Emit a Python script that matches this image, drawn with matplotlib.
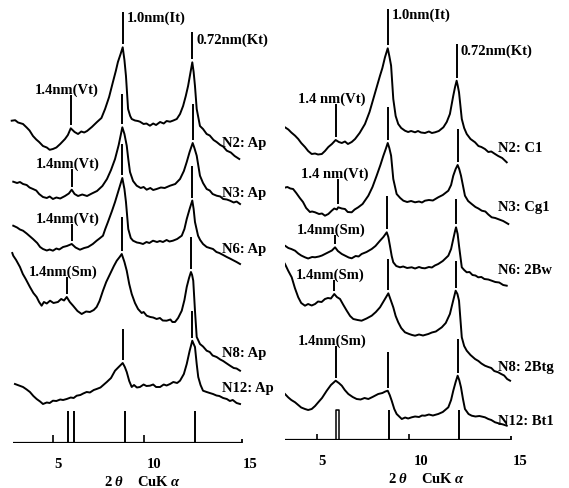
import numpy as np
import matplotlib.pyplot as plt

plt.rcParams["font.family"] = ["Liberation Serif", "DejaVu Serif"]
plt.rcParams["font.weight"] = "bold"
plt.rcParams["mathtext.fontset"] = "custom"
plt.rcParams["mathtext.rm"] = "Liberation Serif:bold"
plt.rcParams["mathtext.it"] = "Liberation Serif:italic:bold"

# ---- left panel: Ap horizons (2theta, relative intensity) ----
left_names = ["N2: Ap", "N3: Ap", "N6: Ap", "N8: Ap", "N12: Ap"]
left_offsets = [279, 234, 174, 69, 34]
left_label_lift = [21, 17, 20, 21, 21]
left_14_text = ["1.4nm(Vt)", "1.4nm(Vt)", "1.4nm(Vt)", "1.4nm(Sm)", None]

n2_ap = np.array([
    (2.57, 43.3), (2.75, 43.8), (2.90, 41.5), (3.16, 40.0), (3.35, 36.5), (3.50, 33.5),
    (3.68, 28.0), (3.85, 24.5), (4.00, 22.0), (4.20, 18.0), (4.40, 16.5), (4.55, 14.2),
    (4.72, 15.0), (4.90, 16.5), (5.10, 20.0), (5.35, 25.0), (5.50, 29.0), (5.65, 35.7),
    (5.85, 32.0), (6.03, 30.0), (6.20, 32.5), (6.35, 31.5), (6.50, 33.0), (6.75, 37.0),
    (7.02, 42.0), (7.25, 46.0), (7.44, 55.0), (7.65, 67.0), (7.85, 82.0), (8.00, 93.0),
    (8.11, 102.0), (8.25, 110.0), (8.36, 116.7), (8.45, 104.0), (8.53, 88.0), (8.64, 55.0),
    (8.75, 48.0), (8.83, 45.0), (9.00, 43.5), (9.15, 43.0), (9.26, 42.3), (9.45, 40.0),
    (9.60, 40.5), (9.78, 38.3), (9.95, 40.5), (10.10, 39.0), (10.31, 42.0), (10.50, 40.5),
    (10.65, 43.0), (10.83, 42.3), (11.00, 43.5), (11.18, 45.0), (11.35, 50.0), (11.51, 58.0),
    (11.65, 68.0), (11.77, 78.0), (11.90, 92.0), (11.99, 101.7), (12.06, 92.0), (12.13, 78.0),
    (12.22, 55.0), (12.39, 38.0), (12.55, 35.0), (12.74, 30.0), (12.90, 28.5), (13.10, 24.0),
    (13.26, 22.0), (13.45, 19.0), (13.60, 17.5), (13.79, 13.3), (14.00, 11.5), (14.20, 8.0),
    (14.44, 5.0),
])
n3_ap = np.array([
    (2.65, 27.3), (2.85, 26.0), (3.00, 27.0), (3.16, 25.0), (3.35, 24.0), (3.50, 21.5),
    (3.68, 20.0), (3.85, 18.5), (4.00, 15.0), (4.20, 12.0), (4.40, 11.0), (4.55, 12.5),
    (4.72, 10.0), (4.90, 11.5), (5.10, 10.5), (5.35, 13.0), (5.55, 15.5), (5.70, 19.3),
    (5.85, 15.0), (6.03, 13.0), (6.25, 14.5), (6.50, 13.0), (6.75, 15.5), (7.02, 18.0),
    (7.30, 23.0), (7.54, 30.0), (7.75, 39.0), (7.96, 50.0), (8.15, 64.0), (8.34, 81.7),
    (8.45, 75.0), (8.57, 63.3), (8.65, 50.0), (8.74, 37.0), (8.90, 28.0), (9.09, 23.3),
    (9.30, 21.0), (9.45, 22.0), (9.61, 19.3), (9.80, 21.0), (9.95, 19.0), (10.13, 20.0),
    (10.35, 21.5), (10.55, 21.0), (10.83, 23.3), (11.10, 25.0), (11.35, 30.0), (11.55, 38.0),
    (11.70, 47.0), (11.85, 57.0), (12.01, 66.0), (12.10, 61.0), (12.22, 53.3), (12.39, 33.3),
    (12.55, 26.0), (12.74, 20.0), (12.90, 18.5), (13.05, 15.0), (13.26, 13.3), (13.45, 12.5),
    (13.60, 10.0), (13.79, 9.5), (13.96, 8.3), (14.15, 6.5), (14.30, 7.5), (14.48, 5.0),
])
n6_ap = np.array([
    (2.65, 43.3), (2.85, 41.5), (3.00, 39.5), (3.16, 38.3), (3.35, 35.5), (3.50, 33.0),
    (3.68, 30.0), (3.90, 26.0), (4.05, 22.0), (4.20, 20.0), (4.40, 18.5), (4.55, 19.5),
    (4.72, 18.3), (4.90, 20.5), (5.05, 19.5), (5.25, 22.0), (5.45, 23.0), (5.70, 25.0),
    (5.90, 21.5), (6.13, 19.3), (6.35, 21.0), (6.55, 22.0), (6.80, 25.0), (7.00, 28.3),
    (7.15, 30.5), (7.33, 33.3), (7.45, 40.0), (7.59, 47.0), (7.80, 58.0), (7.96, 67.0),
    (8.15, 79.0), (8.34, 91.0), (8.45, 80.0), (8.53, 67.0), (8.65, 40.0), (8.78, 31.0),
    (8.90, 28.3), (9.10, 26.5), (9.25, 26.0), (9.42, 25.0), (9.60, 27.0), (9.75, 26.0),
    (9.94, 28.3), (10.15, 27.0), (10.30, 28.0), (10.46, 27.0), (10.65, 29.0), (10.80, 27.5),
    (10.98, 28.3), (11.20, 30.0), (11.44, 33.3), (11.58, 40.0), (11.70, 50.0), (11.85, 60.0),
    (11.99, 68.5), (12.06, 60.0), (12.13, 47.0), (12.29, 33.3), (12.40, 29.0), (12.55, 25.0),
    (12.74, 22.0), (12.90, 21.0), (13.07, 20.0), (13.25, 17.0), (13.40, 16.0), (13.60, 14.0),
    (13.79, 12.0), (13.95, 10.5), (14.10, 9.0), (14.30, 7.0), (14.48, 5.0),
])
n8_ap = np.array([
    (2.60, 121.0), (2.65, 118.3), (2.80, 114.0), (3.00, 107.0), (3.15, 100.0), (3.30, 95.0),
    (3.52, 87.0), (3.70, 81.0), (3.87, 77.0), (4.00, 72.0), (4.13, 68.3), (4.25, 72.0),
    (4.40, 70.5), (4.57, 73.3), (4.75, 71.0), (4.98, 72.0), (5.15, 75.0), (5.30, 73.5),
    (5.44, 77.0), (5.60, 72.0), (5.77, 68.3), (6.00, 63.0), (6.22, 60.0), (6.45, 62.5),
    (6.65, 62.0), (6.85, 64.0), (7.00, 67.0), (7.15, 73.0), (7.33, 83.3), (7.50, 92.0),
    (7.70, 100.0), (7.90, 108.0), (8.05, 113.3), (8.20, 117.0), (8.31, 120.0), (8.45, 112.0),
    (8.57, 103.3), (8.70, 90.0), (8.83, 80.0), (9.00, 71.0), (9.16, 65.0), (9.35, 61.0),
    (9.45, 62.0), (9.61, 58.3), (9.80, 57.0), (9.95, 56.5), (10.13, 55.0), (10.30, 56.0),
    (10.45, 53.5), (10.65, 53.3), (10.85, 54.5), (10.95, 52.0), (11.09, 52.0), (11.25, 56.0),
    (11.44, 63.3), (11.58, 74.0), (11.70, 87.0), (11.82, 96.0), (11.92, 102.0), (11.98, 99.0),
    (12.04, 93.3), (12.13, 63.3), (12.22, 37.0), (12.39, 30.0), (12.55, 27.5), (12.74, 23.3),
    (12.90, 22.0), (13.05, 18.5), (13.26, 17.0), (13.45, 14.5), (13.60, 13.0), (13.79, 10.5),
    (13.96, 8.3), (14.15, 6.0), (14.30, 5.5), (14.48, 3.3),
])
n12_ap = np.array([
    (2.74, 25.0), (2.95, 23.5), (3.16, 22.0), (3.35, 19.5), (3.52, 17.0), (3.70, 13.0),
    (3.87, 10.0), (4.05, 7.5), (4.20, 5.0), (4.40, 6.5), (4.55, 6.0), (4.72, 8.3),
    (4.90, 8.0), (5.10, 9.5), (5.25, 9.0), (5.44, 10.0), (5.65, 11.5), (5.80, 11.0),
    (5.96, 13.3), (6.15, 14.0), (6.30, 15.5), (6.48, 17.0), (6.65, 16.5), (6.85, 19.0),
    (7.00, 20.0), (7.20, 21.5), (7.35, 24.0), (7.53, 27.0), (7.75, 31.0), (7.96, 38.3),
    (8.15, 42.0), (8.36, 46.0), (8.47, 42.0), (8.57, 37.0), (8.70, 28.0), (8.83, 22.0),
    (8.95, 24.0), (9.10, 21.5), (9.26, 22.0), (9.45, 24.5), (9.60, 23.0), (9.78, 23.3),
    (9.95, 24.5), (10.10, 22.0), (10.31, 22.0), (10.50, 24.5), (10.65, 23.5), (10.83, 25.0),
    (11.00, 27.0), (11.20, 26.0), (11.35, 28.3), (11.55, 35.0), (11.70, 45.0), (11.85, 58.0),
    (11.99, 68.3), (12.06, 65.0), (12.13, 62.0), (12.22, 45.0), (12.30, 32.0), (12.42, 24.0),
    (12.55, 18.3), (12.74, 17.0), (12.90, 16.0), (13.07, 15.0), (13.25, 13.5), (13.40, 13.0),
    (13.60, 11.0), (13.79, 10.0), (13.95, 8.0), (14.10, 9.0), (14.30, 6.0), (14.48, 5.0),
])
left_curves = [n2_ap, n3_ap, n6_ap, n8_ap, n12_ap]

# ---- right panel: subsoil horizons ----
right_names = ["N2: C1", "N3: Cg1", "N6: 2Bw", "N8: 2Btg", "N12: Bt1"]
right_offsets = [276, 211, 151, 56, 11]
right_label_lift = [17, 22, 20, 18, 8]
right_14_text = ["1.4 nm(Vt)", "1.4 nm(Vt)", "1.4nm(Sm)", "1.4nm(Sm)", "1.4nm(Sm)"]

n2_c1 = np.array([
    (2.79, 40.0), (2.95, 38.5), (3.13, 36.7), (3.30, 34.5), (3.45, 31.5), (3.64, 28.3),
    (3.80, 25.0), (3.95, 21.0), (4.14, 17.0), (4.30, 13.0), (4.48, 10.0), (4.65, 10.5),
    (4.80, 9.5), (4.99, 10.0), (5.15, 13.0), (5.32, 17.0), (5.50, 20.0), (5.69, 24.0),
    (5.85, 22.0), (6.00, 21.0), (6.16, 22.5), (6.31, 20.0), (6.50, 22.0), (6.67, 25.0),
    (6.90, 31.0), (7.17, 40.0), (7.40, 52.0), (7.59, 65.0), (7.75, 76.0), (7.93, 88.3),
    (8.05, 96.0), (8.18, 106.7), (8.32, 115.7), (8.40, 108.0), (8.49, 98.3), (8.60, 65.0),
    (8.72, 48.0), (8.85, 40.0), (9.00, 36.0), (9.19, 33.3), (9.35, 32.0), (9.50, 33.0),
    (9.70, 31.7), (9.85, 33.0), (10.00, 31.5), (10.20, 31.0), (10.40, 32.5), (10.55, 31.0),
    (10.71, 31.7), (10.90, 33.0), (11.13, 36.7), (11.30, 42.0), (11.46, 50.0), (11.63, 68.3),
    (11.72, 77.0), (11.80, 83.3), (11.86, 78.0), (11.92, 71.7), (12.06, 45.0), (12.18, 36.0),
    (12.31, 30.0), (12.50, 25.0), (12.73, 21.7), (12.90, 18.0), (13.05, 17.0), (13.23, 15.0),
    (13.40, 12.0), (13.55, 12.5), (13.74, 10.0), (13.90, 8.0), (14.10, 6.0), (14.33, 1.7),
])
n3_cg1 = np.array([
    (2.88, 41.7), (3.05, 41.0), (3.25, 42.0), (3.40, 40.5), (3.54, 40.0), (3.70, 36.0),
    (3.88, 31.0), (4.04, 27.0), (4.20, 21.0), (4.39, 17.0), (4.50, 17.5), (4.65, 16.7),
    (4.85, 15.0), (5.00, 15.5), (5.15, 13.3), (5.32, 15.0), (5.49, 18.3), (5.62, 20.5),
    (5.75, 19.5), (5.82, 21.7), (6.00, 20.5), (6.16, 20.0), (6.30, 17.0), (6.50, 16.7),
    (6.65, 19.5), (6.83, 21.7), (7.05, 25.0), (7.34, 33.3), (7.55, 42.0), (7.76, 53.3),
    (7.95, 64.0), (8.10, 73.3), (8.22, 80.0), (8.32, 86.0), (8.40, 81.0), (8.49, 73.3),
    (8.60, 50.0), (8.77, 35.0), (8.95, 31.0), (9.11, 28.3), (9.30, 27.0), (9.50, 28.0),
    (9.70, 26.7), (9.90, 27.5), (10.05, 26.5), (10.20, 28.3), (10.40, 29.0), (10.60, 28.5),
    (10.87, 31.7), (11.10, 34.0), (11.38, 38.3), (11.52, 44.0), (11.63, 53.3), (11.75, 60.0),
    (11.85, 64.0), (11.93, 60.0), (12.02, 53.3), (12.22, 33.3), (12.38, 28.0), (12.56, 25.0),
    (12.75, 22.0), (12.90, 20.5), (13.07, 18.3), (13.25, 17.5), (13.40, 14.5), (13.57, 11.7),
    (13.75, 11.0), (13.95, 9.5), (14.15, 8.0), (14.41, 5.0),
])
n6_2bw = np.array([
    (2.88, 45.0), (3.13, 43.3), (3.30, 41.0), (3.45, 40.0), (3.64, 38.3), (3.80, 35.5),
    (3.95, 33.5), (4.14, 31.7), (4.30, 30.5), (4.50, 32.0), (4.65, 31.7), (4.85, 32.5),
    (5.00, 33.5), (5.15, 35.0), (5.35, 37.0), (5.50, 38.5), (5.66, 41.7), (5.80, 38.0),
    (6.00, 35.0), (6.20, 33.0), (6.35, 31.5), (6.50, 30.7), (6.70, 33.0), (6.85, 32.5),
    (7.00, 35.0), (7.25, 37.0), (7.51, 40.0), (7.70, 43.0), (7.93, 48.3), (8.10, 52.0),
    (8.27, 56.7), (8.35, 52.0), (8.43, 43.3), (8.52, 33.0), (8.60, 26.7), (8.75, 23.0),
    (8.94, 21.7), (9.10, 22.5), (9.30, 21.0), (9.53, 21.7), (9.70, 20.5), (9.90, 22.0),
    (10.05, 21.0), (10.20, 20.7), (10.40, 22.0), (10.55, 21.5), (10.70, 23.5), (10.87, 25.0),
    (11.10, 28.0), (11.38, 33.3), (11.52, 40.0), (11.63, 50.0), (11.72, 58.0), (11.77, 61.7),
    (11.85, 55.0), (11.92, 43.3), (12.06, 21.7), (12.18, 19.0), (12.31, 16.7), (12.45, 17.0),
    (12.60, 14.0), (12.75, 13.5), (12.89, 11.7), (13.05, 12.0), (13.20, 10.0), (13.40, 9.5),
    (13.57, 8.3), (13.75, 7.0), (13.95, 6.5), (14.15, 4.0), (14.33, 3.3),
])
n8_2btg = np.array([
    (2.88, 128.3), (3.00, 124.0), (3.13, 120.0), (3.30, 113.0), (3.47, 106.7), (3.63, 96.0),
    (3.80, 86.7), (3.95, 81.0), (4.14, 78.3), (4.30, 80.0), (4.48, 78.5), (4.65, 80.0),
    (4.80, 82.5), (4.98, 82.0), (5.15, 85.0), (5.30, 86.0), (5.45, 85.5), (5.62, 90.0),
    (5.75, 87.0), (5.91, 85.0), (6.08, 79.0), (6.25, 73.3), (6.42, 68.0), (6.58, 65.0),
    (6.80, 64.0), (7.00, 63.3), (7.25, 65.5), (7.51, 68.3), (7.72, 72.0), (7.93, 76.7),
    (8.15, 84.0), (8.35, 90.7), (8.47, 84.0), (8.60, 76.7), (8.72, 68.0), (8.85, 61.7),
    (9.00, 56.0), (9.19, 51.7), (9.40, 50.0), (9.55, 49.0), (9.70, 48.3), (9.90, 49.5),
    (10.10, 48.5), (10.37, 50.0), (10.55, 51.5), (10.75, 52.5), (11.05, 56.7), (11.25, 61.0),
    (11.46, 70.0), (11.62, 83.0), (11.75, 93.3), (11.84, 90.0), (11.92, 83.3), (12.06, 46.7),
    (12.18, 38.0), (12.31, 33.3), (12.50, 29.0), (12.73, 25.0), (12.90, 23.0), (13.05, 20.5),
    (13.23, 18.3), (13.40, 17.0), (13.55, 16.0), (13.70, 13.0), (13.90, 11.7), (14.05, 10.0),
    (14.20, 8.5), (14.35, 5.0), (14.50, 3.3),
])
n12_bt1 = np.array([
    (2.78, 42.0), (2.95, 38.5), (3.13, 35.0), (3.30, 31.5), (3.45, 29.0), (3.64, 26.7),
    (3.80, 24.0), (3.95, 21.5), (4.14, 20.0), (4.30, 19.0), (4.48, 20.0), (4.65, 23.0),
    (4.81, 26.7), (5.00, 31.0), (5.24, 38.3), (5.45, 44.0), (5.69, 48.3), (5.85, 46.0),
    (6.00, 43.3), (6.15, 39.0), (6.33, 35.0), (6.55, 32.0), (6.75, 30.0), (6.95, 29.5),
    (7.15, 31.0), (7.34, 30.0), (7.55, 32.0), (7.84, 35.0), (8.05, 36.0), (8.20, 37.5),
    (8.32, 38.3), (8.42, 34.0), (8.52, 28.3), (8.65, 20.0), (8.77, 15.0), (9.03, 10.0),
    (9.20, 11.5), (9.35, 10.5), (9.53, 11.7), (9.70, 12.5), (9.90, 12.0), (10.05, 13.5),
    (10.20, 13.3), (10.40, 14.5), (10.60, 13.5), (10.87, 15.0), (11.10, 17.0), (11.38, 21.7),
    (11.52, 29.0), (11.63, 38.3), (11.75, 47.0), (11.85, 53.3), (11.93, 49.0), (12.02, 41.7),
    (12.12, 30.0), (12.22, 20.0), (12.40, 15.0), (12.56, 13.3), (12.75, 12.5), (12.95, 13.0),
    (13.23, 11.7), (13.40, 10.0), (13.55, 9.0), (13.74, 6.7), (13.95, 5.5), (14.15, 4.5),
    (14.33, 3.3),
])
right_curves = [n2_c1, n3_cg1, n6_2bw, n8_2btg, n12_bt1]

# peak-marker extents above each peak (1.0 nm, 0.72 nm, 1.4 nm)
left_reach_10 = [35, 33, 34, 37, 34]
left_reach_072 = [30, 39, 35, 35, 30]
left_reach_14 = [33, 21, 20, 20, 0]
right_reach_10 = [39, 36, 36, 34, 39]
right_reach_072 = [37, 36, 28, 30, 37]
right_reach_14 = [36, 28, 12, 14, 35]

# reference lines along the axis
left_ref_x = [5.53, 5.82, 8.46, 12.15]
right_ref_x = [8.38, 11.92]
right_ref_box = (5.69, 5.86)
left_minor = [4.74, 9.47]
right_minor = [4.73, 9.39]

FS = 10.5
LW = 1.4


def peak_near(xy, x0, half):
    m = np.abs(xy[:, 0] - x0) <= half
    sub = xy[m]
    i = np.argmax(sub[:, 1])
    return sub[i, 0], sub[i, 1]


def draw_panel(ax, curves, offsets, names, lifts, texts14, reach10, reach072, reach14,
               pos10, pos072, name_x, axis_span):
    gap = 3
    for k, (xy, off) in enumerate(zip(curves, offsets)):
        ax.plot(xy[:, 0], xy[:, 1] + off, color="black", lw=LW)
        ax.text(name_x, off + lifts[k], names[k], fontsize=FS, va="center", ha="left")

        # 1.0 nm and 0.72 nm markers
        for pos, reach, lab in [(pos10, reach10[k], "1.0nm(It)"), (pos072, reach072[k], "0.72nm(Kt)")]:
            px, py = peak_near(xy, pos, 0.3)
            ax.vlines(px, py + off + gap, py + off + reach, color="black", lw=LW)
            if k == 0:
                dy = 5 if lab.startswith("1.0") else 7
                ax.text(px + 0.22, py + off + reach - dy, lab, fontsize=FS, va="center", ha="left")

        # 1.4 nm marker
        if texts14[k] is not None:
            px, py = peak_near(xy, 5.65, 0.36)
            ax.vlines(px, py + off + gap, py + off + reach14[k], color="black", lw=LW)
            ax.text(px - 0.2, py + off + reach14[k] - 1, texts14[k], fontsize=FS,
                    va="bottom", ha="center")

    # baseline axis
    ax.plot(axis_span, [0, 0], color="black", lw=1.6, solid_capstyle="butt")
    ax.vlines(axis_span[1], 0, 4, color="black", lw=1.3)


fig = plt.figure(figsize=(5.69, 4.89), dpi=100)
W, H = 569.0, 489.0

ax_l = fig.add_axes([0, 45 / H, 284.5 / W, 444 / H])
ax_r = fig.add_axes([284.5 / W, 48 / H, 284.5 / W, 441 / H])

ax_l.set_xlim(1.959, 16.80)
ax_l.set_ylim(0, 444)
ax_r.set_xlim(3.106, 17.475)
ax_r.set_ylim(0, 441)

draw_panel(ax_l, left_curves, left_offsets, left_names, left_label_lift, left_14_text,
           left_reach_10, left_reach_072, left_reach_14, 8.35, 12.0, 13.52, [2.65, 14.57])
draw_panel(ax_r, right_curves, right_offsets, right_names, right_label_lift, right_14_text,
           right_reach_10, right_reach_072, right_reach_14, 8.35, 11.85, 13.90, [2.96, 14.53])

# reference sticks and small ticks
ax_l.vlines(left_ref_x, 0, 32, color="black", lw=1.4)
ax_l.vlines(left_minor, 0, 8, color="black", lw=1.2)
ax_r.vlines(right_ref_x, 0, 30, color="black", lw=1.4)
bx0, bx1 = right_ref_box
ax_r.plot([bx0, bx0, bx1, bx1], [0, 30, 30, 0], color="black", lw=1.1)
ax_r.vlines(right_minor, 0, 6, color="black", lw=1.2)

for ax in (ax_l, ax_r):
    for s in ax.spines.values():
        s.set_visible(False)
    ax.set_yticks([])
    ax.set_xticks([5, 10, 15])
    ax.set_xticklabels(["5", "10", "15"])
    ax.tick_params(axis="x", length=0, pad=10, labelsize=FS)
    ax.set_xlabel(r"2 $\theta$    CuK $\alpha$", fontsize=FS, fontweight="bold", labelpad=3)
    ax.patch.set_visible(False)

fig.savefig("out.png", dpi=100)
